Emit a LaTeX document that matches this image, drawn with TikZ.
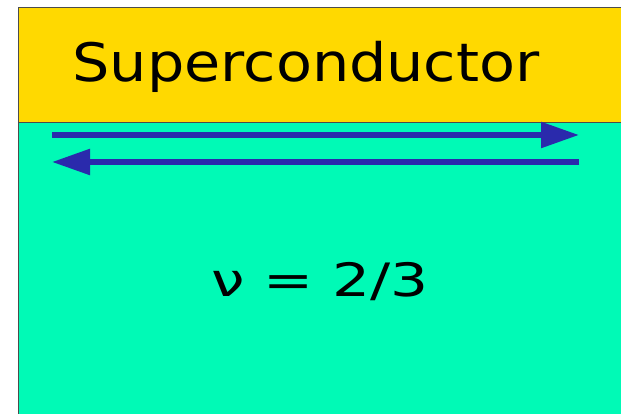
\documentclass[tikz,border=0pt]{standalone}
\usepackage{fontspec}
\setmainfont{DejaVu Sans}
\usetikzlibrary{arrows.meta,positioning}
\definecolor{scfill}{RGB}{255,217,0}
\definecolor{qhfill}{RGB}{0,250,182}
\definecolor{edgeblue}{RGB}{42,42,172}
\tikzset{
  region/.style={draw=black!70,line width=1pt},
  edge/.style={edgeblue,line width=5.5pt,-{Triangle[length=38pt,width=25pt]}},
}

\begin{document}
\begin{tikzpicture}[x=1pt,y=1pt]
  \useasboundingbox[fill=white] (0,0) rectangle (621,414);
  \begin{scope}
    \clip (0,0) rectangle (621,414);
    \filldraw[region,fill=qhfill] (18,-5) rectangle (630,291);
    \filldraw[region,fill=scfill] (18,291) rectangle (630,406);
  \end{scope}
  \node[anchor=base,xscale=1.11,font=\fontsize{53}{60}\selectfont] (sc) at (306,332) {Superconductor};
  \node[anchor=base,xscale=1.3,font=\fontsize{46}{54}\selectfont] (nu) at (320,117) {ν = 2/3};
  % counter-propagating edge modes
  \coordinate (tl) at (52,279);
  \coordinate (tr) at (579,279);
  \coordinate (bl) at (52,252);
  \coordinate (br) at (579,252);
  \draw[edge] (tl) -- (tr);
  \draw[edge] (br) -- (bl);
\end{tikzpicture}
\end{document}
